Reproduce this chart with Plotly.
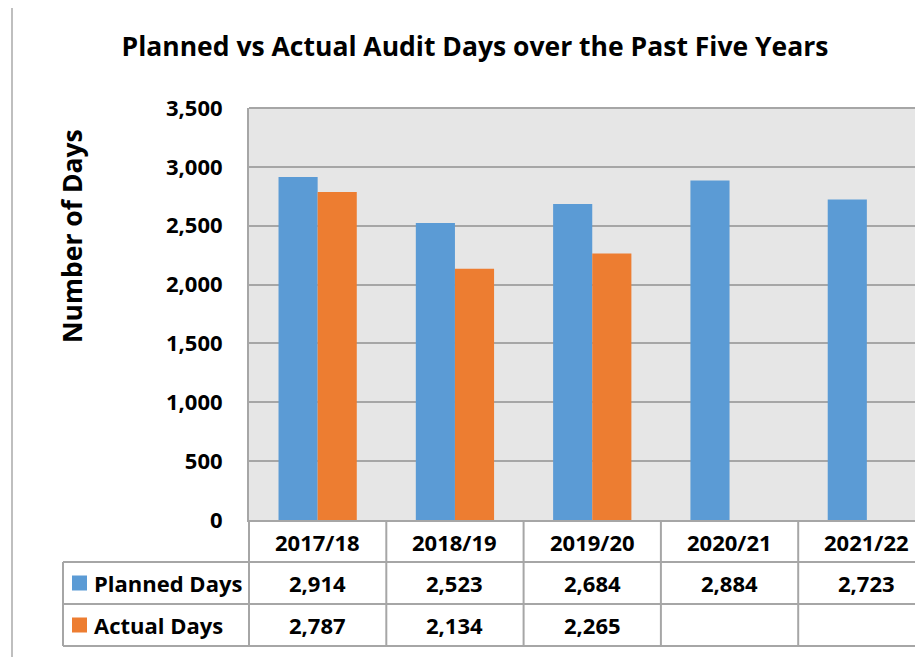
import plotly.graph_objects as go

categories = ["2017/18", "2018/19", "2019/20", "2020/21", "2021/22"]
planned = [2914, 2523, 2684, 2884, 2723]
actual = [2787, 2134, 2265, None, None]
series_names = ["Planned Days", "Actual Days"]
colors = ["#5B9BD5", "#ED7D31"]

FONT = "Open Sans"
OFF = 8  # page body margin
W, H = 923 - OFF, 657 - OFF
L = 249 - OFF
T = 108 - OFF
B = H - (520 - OFF)
R = 0
plot_h = H - T - B
plot_w = W - L - R
cat_w = 137.3
GRID = "#A6A6A6"

def py(px):
    # screen pixel -> paper y
    return (H - B - (px - OFF)) / plot_h

def pxp(px):
    # screen pixel -> paper x
    return (px - OFF - L) / plot_w

fig = go.Figure()
for name, vals, c in zip(series_names, [planned, actual], colors):
    fig.add_trace(go.Bar(x=categories, y=vals, name=name, marker=dict(color=c, line=dict(width=0)),
                         showlegend=False))

x_end = -0.5 + plot_w / cat_w

fig.update_layout(
    width=W, height=H,
    margin=dict(l=L, r=R, t=T, b=B),
    paper_bgcolor="white", plot_bgcolor="#E6E6E6",
    barmode="group", bargap=0.43, bargroupgap=0,
    font=dict(family=FONT, color="black"),
    title=dict(text="Planned vs Actual Audit Days over the Past Five Years",
               x=pxp(475), xanchor="center", xref="paper", y=1 - (47 - OFF) / H, yanchor="middle",
               font=dict(size=26.5, family=FONT, weight="bold", color="black")),
    xaxis=dict(range=[-0.5, x_end], showticklabels=False, showgrid=False,
               showline=True, linecolor=GRID, linewidth=2, ticks="", fixedrange=True),
    yaxis=dict(range=[0, 3500], dtick=500, tickformat=",", showgrid=True, gridcolor=GRID, gridwidth=2,
               showline=True, linecolor=GRID, linewidth=2, zeroline=False,
               tickfont=dict(size=22, family=FONT, weight="bold", color="black"),
               ticks="", ticklabelstandoff=20),
)

# y axis title
fig.add_annotation(text="Number of Days", xref="paper", yref="paper", x=pxp(72), y=py(236),
                   textangle=-90, showarrow=False, xanchor="center", yanchor="middle",
                   font=dict(size=26.5, family=FONT, weight="bold", color="black"))
# top border of plot area
fig.add_shape(type="line", xref="paper", yref="paper", x0=0, x1=1, y0=1, y1=1,
              line=dict(color=GRID, width=2))

# outer chart border
fig.add_shape(type="rect", xref="paper", yref="paper", x0=pxp(12), x1=pxp(940), y0=py(7), y1=py(680),
              line=dict(color="#BFBFBF", width=2), fillcolor="rgba(0,0,0,0)", layer="below")

# data table
row_lines = [562, 604, 646]
for yy in row_lines:
    fig.add_shape(type="line", xref="paper", yref="paper", x0=pxp(63), x1=1.02, y0=py(yy), y1=py(yy),
                  line=dict(color=GRID, width=2))
fig.add_shape(type="line", xref="paper", yref="paper", x0=pxp(63), x1=pxp(63), y0=py(562), y1=py(646),
              line=dict(color=GRID, width=2))
fig.add_shape(type="line", xref="paper", yref="paper", x0=0, x1=0, y0=0, y1=py(646),
              line=dict(color=GRID, width=2))
for i in range(1, len(categories) + 1):
    fig.add_shape(type="line", xref="x", yref="paper", x0=i - 0.5, x1=i - 0.5, y0=0, y1=py(646),
                  line=dict(color=GRID, width=2))

for i, cat in enumerate(categories):
    fig.add_annotation(text=cat, xref="x", yref="paper", x=i, y=py(542), showarrow=False,
                       xanchor="center", yanchor="middle",
                       font=dict(size=22, family=FONT, weight="bold", color="black"))

row_centers = [583, 625]
for vals, yc in zip([planned, actual], row_centers):
    for i, v in enumerate(vals):
        if v is None:
            continue
        fig.add_annotation(text=f"{v:,}", xref="x", yref="paper", x=i, y=py(yc), showarrow=False,
                           xanchor="center", yanchor="middle",
                           font=dict(size=22, family=FONT, weight="bold", color="black"))

for name, c, yc in zip(series_names, colors, row_centers):
    fig.add_shape(type="rect", xref="paper", yref="paper", x0=pxp(72), x1=pxp(87),
                  y0=py(yc - 7.5), y1=py(yc + 7.5), fillcolor=c, line=dict(width=0))
    fig.add_annotation(text=name, xref="paper", yref="paper", x=pxp(92), y=py(yc), showarrow=False,
                       xanchor="left", yanchor="middle",
                       font=dict(size=22, family=FONT, weight="bold", color="black"))

fig.write_html("out.html")
